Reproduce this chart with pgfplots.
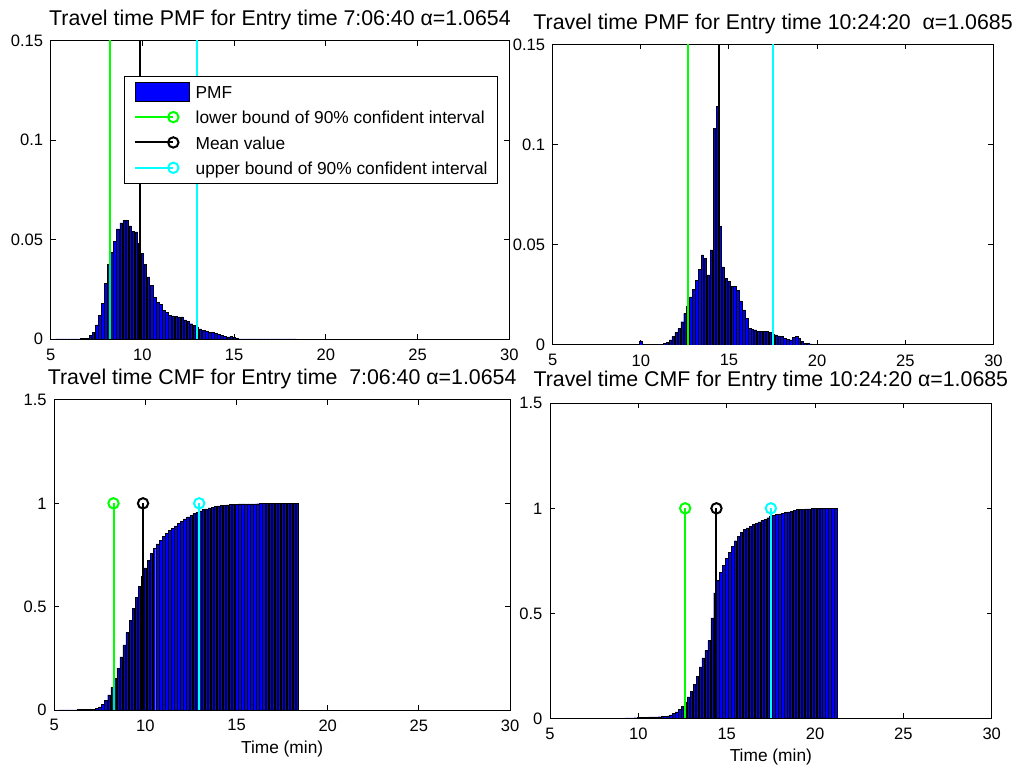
\documentclass[border=0pt]{standalone}
\usepackage{fontspec}
\setmainfont{Liberation Sans}
\usepackage{pgfplots}
\pgfplotsset{compat=1.18}
\usepackage{pgfplotstable}
\definecolor{barblue}{rgb}{0,0,1}
\definecolor{lgreen}{rgb}{0,1,0}
\definecolor{lcyan}{rgb}{0,1,1}

\pgfplotstableread{
x pmf cmf
5.333 0.0002 0.0002
5.5 0.0002 0.0004
5.667 0.0002 0.0006
5.833 0.0002 0.0008
6.0 0.0002 0.0010
6.167 0.0002 0.0012
6.333 0.0002 0.0014
6.5 0.0002 0.0016
6.667 0.0003 0.0019
6.833 0.0003 0.0022
7.0 0.0006 0.0028
7.167 0.0018 0.0046
7.333 0.0035 0.0080
7.5 0.0072 0.0152
7.667 0.0120 0.0271
7.833 0.0182 0.0451
8.0 0.0280 0.0729
8.167 0.0375 0.1101
8.333 0.0438 0.1535
8.5 0.0493 0.2024
8.667 0.0555 0.2574
8.833 0.0585 0.3154
9.0 0.0597 0.3746
9.167 0.0597 0.4338
9.333 0.0569 0.4902
9.5 0.0543 0.5441
9.667 0.0540 0.5976
9.833 0.0480 0.6452
10.0 0.0430 0.6879
10.167 0.0376 0.7251
10.333 0.0314 0.7563
10.5 0.0270 0.7830
10.667 0.0212 0.8041
10.833 0.0184 0.8223
11.0 0.0176 0.8398
11.167 0.0146 0.8542
11.333 0.0134 0.8675
11.5 0.0120 0.8794
11.667 0.0117 0.8910
11.833 0.0115 0.9024
12.0 0.0112 0.9135
12.167 0.0112 0.9246
12.333 0.0098 0.9344
12.5 0.0090 0.9433
12.667 0.0078 0.9510
12.833 0.0068 0.9578
13.0 0.0062 0.9639
13.167 0.0052 0.9691
13.333 0.0046 0.9736
13.5 0.0040 0.9776
13.667 0.0036 0.9812
13.833 0.0033 0.9844
14.0 0.0028 0.9872
14.167 0.0025 0.9897
14.333 0.0020 0.9917
14.5 0.0015 0.9931
14.667 0.0012 0.9943
14.833 0.0015 0.9958
15.0 0.0008 0.9966
15.167 0.0005 0.9971
15.333 0.0002 0.9973
15.5 0.00015 0.9974
15.667 0.00015 0.9976
15.833 0.00015 0.9977
16.0 0.00015 0.9979
16.167 0.00015 0.9980
16.333 0.00015 0.9982
16.5 0.00015 0.9983
16.667 0.00015 0.9985
16.833 0.00015 0.9986
17.0 0.00015 0.9988
17.167 0.00015 0.9989
17.333 0.00015 0.9991
17.5 0.00015 0.9992
17.667 0.00015 0.9994
17.833 0.00015 0.9995
18.0 0.00015 0.9997
18.167 0.00015 0.9998
18.333 0.00015 1.0000
}\lefttab

\pgfplotstableread{
x pmf cmf
8.833 0.0004 0.0004
9.0 0.0004 0.0008
9.167 0.0004 0.0012
9.333 0.0004 0.0016
9.5 0.0004 0.0020
9.667 0.0004 0.0024
9.833 0.0004 0.0028
10.0 0.0020 0.0048
10.167 0.0004 0.0052
10.333 0.0004 0.0056
10.5 0.0004 0.0060
10.667 0.0004 0.0064
10.833 0.0004 0.0068
11.0 0.0004 0.0072
11.167 0.0004 0.0076
11.333 0.0008 0.0084
11.5 0.0013 0.0097
11.667 0.0025 0.0122
11.833 0.0042 0.0164
12.0 0.0062 0.0226
12.167 0.0083 0.0309
12.333 0.0116 0.0425
12.5 0.0158 0.0583
12.667 0.0195 0.0778
12.833 0.0240 0.1018
13.0 0.0278 0.1296
13.167 0.0324 0.1620
13.333 0.0377 0.1997
13.5 0.0449 0.2446
13.667 0.0432 0.2878
13.833 0.0350 0.3228
14.0 0.0474 0.3702
14.167 0.1080 0.4782
14.333 0.1190 0.5972
14.5 0.0590 0.6562
14.667 0.0390 0.6952
14.833 0.0333 0.7285
15.0 0.0316 0.7601
15.167 0.0294 0.7895
15.333 0.0291 0.8186
15.5 0.0271 0.8457
15.667 0.0220 0.8677
15.833 0.0175 0.8852
16.0 0.0133 0.8985
16.167 0.0083 0.9068
16.333 0.0078 0.9146
16.5 0.0075 0.9221
16.667 0.0067 0.9288
16.833 0.0067 0.9355
17.0 0.0067 0.9422
17.167 0.0067 0.9489
17.333 0.0063 0.9552
17.5 0.0053 0.9605
17.667 0.0050 0.9655
17.833 0.0045 0.9700
18.0 0.0042 0.9742
18.167 0.0033 0.9775
18.333 0.0028 0.9803
18.5 0.0025 0.9828
18.667 0.0037 0.9865
18.833 0.0042 0.9907
19.0 0.0033 0.9940
19.167 0.0017 0.9957
19.333 0.0008 0.9965
19.5 0.0008 0.9973
19.667 0.0005 0.9978
19.833 0.0003 0.9981
20.0 0.0003 0.9984
20.167 0.0003 0.9987
20.333 0.0003 0.9990
20.5 0.0003 0.9993
20.667 0.0003 0.9996
20.833 0.0002 0.9998
21.0 0.0001 0.9999
21.167 0.0001 1.0000
}\righttab

\pgfplotsset{
  mstyle/.style={
    scale only axis,
    xmin=5, xmax=30,
    axis line style={line width=0.75pt},
    every tick/.style={black, line width=0.75pt},
    tick align=inside,
    major tick length=3.75pt,
    xtick={5,10,15,20,25,30},
    xticklabels={5,10,15,20,25,30},
    tick label style={font=\fontsize{12.4}{14}\selectfont},
    xticklabel style={inner sep=0pt, anchor=north, yshift=-7pt},
    yticklabel style={inner sep=0pt, anchor=east, xshift=-5.5pt},
    every axis title shift=0pt,
    title style={at={(0.5,1)}, anchor=base, inner sep=0pt, font=\fontsize{16}{19}\selectfont},
    xlabel style={at={(axis description cs:0.5,0)}, anchor=base, inner sep=0pt, yshift=-32.5pt, font=\fontsize{13}{15}\selectfont},
  },
  pmfstyle/.style={mstyle, ymin=0, ymax=0.15, ytick={0,0.05,0.1,0.15}, yticklabels={0,0.05,0.1,0.15}},
  cmfstyle/.style={mstyle, ymin=0, ymax=1.5, ytick={0,0.5,1,1.5}, yticklabels={0,0.5,1,1.5}},
  bars/.style={ybar, bar width=0.1333, bar shift=0pt, fill=barblue, draw=black, line width=0.35pt},
  stem/.style={ycomb, line width=1.5pt, forget plot},
  cstem/.style={ycomb, line width=1.5pt, mark=o, mark size=3.9pt, mark options={line width=1.5pt}},
  stemleg/.style={legend image code/.code={\draw[mark repeat=2, mark phase=2, ##1] plot coordinates {(0pt,0pt) (28.5pt,0pt)};}},
  barleg/.style={legend image code/.code={\draw[##1] (0pt,-7.1pt) rectangle (40.5pt,7.1pt);}},
}

\begin{document}
\begin{tikzpicture}
\path[use as bounding box] (0pt,0pt) rectangle (759pt,575.25pt);

% top left PMF
\begin{axis}[pmfstyle, at={(38.0pt,320.8pt)}, anchor=south west,
  width=343.95pt, height=223.95pt,
  title={Travel time PMF for Entry time 7:06:40 α=1.0654},
  title style={yshift=11pt},
  legend style={at={(0.1598,0.8818)}, anchor=north west, draw=black, line width=0.75pt, fill=white,
    inner xsep=7.4pt, inner ysep=3.5pt, column sep=4.5pt, row sep=3pt,
    font=\fontsize{13}{15}\selectfont,
    nodes={inner sep=0pt, text height=13pt, text depth=3pt},
    cells={anchor=west}},
  legend cell align=left]
\addplot[bars, forget plot] table[x=x, y=pmf] {\lefttab};
\addplot[stem, lgreen] coordinates {(8.25,1)};
\addplot[stem, black] coordinates {(9.87,1)};
\addplot[stem, lcyan] coordinates {(12.95,1)};
\addlegendimage{fill=barblue, draw=black, line width=0.5pt, barleg}
\addlegendimage{lgreen, line width=1.5pt, mark=o, mark size=3.9pt, stemleg}
\addlegendimage{black, line width=1.5pt, mark=o, mark size=3.9pt, stemleg}
\addlegendimage{lcyan, line width=1.5pt, mark=o, mark size=3.9pt, stemleg}
\legend{PMF, lower bound of 90\% confident interval, Mean value, upper bound of 90\% confident interval}
\end{axis}

% top right PMF
\begin{axis}[pmfstyle, at={(414.5pt,316.5pt)}, anchor=south west,
  width=330.6pt, height=225.5pt,
  title={Travel time PMF for Entry time 10:24:20\ \ α=1.0685},
  title style={yshift=11.25pt}]
\addplot[bars] table[x=x, y=pmf] {\righttab};
\addplot[stem, lgreen] coordinates {(12.65,1)};
\addplot[stem, black] coordinates {(14.42,1)};
\addplot[stem, lcyan] coordinates {(17.5,1)};
\end{axis}

% bottom left CMF
\begin{axis}[cmfstyle, at={(40.7pt,42.75pt)}, anchor=south west,
  width=341.8pt, height=232.5pt,
  title={Travel time CMF for Entry time\ \ 7:06:40 α=1.0654},
  title style={yshift=11.25pt},
  xlabel={Time (min)}]
\addplot[bars] table[x=x, y=cmf] {\lefttab};
\addplot[cstem, lgreen] coordinates {(8.25,1)};
\addplot[cstem, black] coordinates {(9.87,1)};
\addplot[cstem, lcyan] coordinates {(12.95,1)};
\end{axis}

% bottom right CMF
\begin{axis}[cmfstyle, at={(412.5pt,36.5pt)}, anchor=south west,
  width=331.3pt, height=236.25pt,
  title={Travel time CMF for Entry time 10:24:20 α=1.0685},
  title style={yshift=12.5pt},
  xlabel={Time (min)}]
\addplot[bars] table[x=x, y=cmf] {\righttab};
\addplot[cstem, lgreen] coordinates {(12.65,1)};
\addplot[cstem, black] coordinates {(14.42,1)};
\addplot[cstem, lcyan] coordinates {(17.5,1)};
\end{axis}
\end{tikzpicture}
\end{document}
